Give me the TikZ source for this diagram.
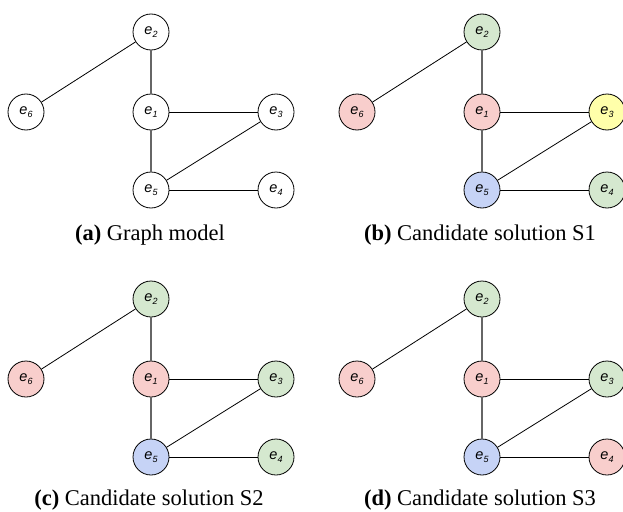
\documentclass[tikz,border=0pt]{standalone}
\usepackage{fontspec}
\setmainfont{Liberation Serif}
\newfontfamily\labelfont{Liberation Sans}
\definecolor{vred}{HTML}{F8CECC}
\definecolor{vgreen}{HTML}{D5E8CF}
\definecolor{vblue}{HTML}{C6D3F6}
\definecolor{vyellow}{HTML}{FFFFAA}
\definecolor{vwhite}{HTML}{FFFFFF}
\newcommand{\ev}[1]{{\labelfont\itshape\fontsize{14.5}{14.5}\selectfont e\raisebox{-2.5pt}{\fontsize{9}{9}\selectfont #1}}}
\tikzset{
  vert/.style={circle, draw=black, line width=0.8pt, minimum size=36pt, inner sep=0pt},
  vedge/.style={draw=black!60, line width=1.4pt},
  hedge/.style={draw=black, line width=0.8pt},
  captext/.style={anchor=base, font=\fontsize{22.5}{24}\selectfont, inner sep=0pt}
}
% one colored graph; #1,#2 = offset, #3..#8 = fills of e1..e6, #9 = prefix
\newcommand{\colgraph}[9]{%
  \begin{scope}[shift={(#1,#2)}]
    \node[vert, fill=#3] (#9e1) at (151,80) {\ev{1}};
    \node[vert, fill=#4] (#9e2) at (151,0) {\ev{2}};
    \node[vert, fill=#5] (#9e3) at (276,80) {\ev{3}};
    \node[vert, fill=#6] (#9e4) at (276,158) {\ev{4}};
    \node[vert, fill=#7] (#9e5) at (151,158) {\ev{5}};
    \node[vert, fill=#8] (#9e6) at (26,80) {\ev{6}};
    \draw[hedge] (#9e2) -- (#9e6);
    \draw[vedge] (#9e2) -- (#9e1);
    \draw[vedge] (#9e1) -- (#9e5);
    \draw[hedge] (#9e1) -- (#9e3);
    \draw[hedge] (#9e3) -- (#9e5);
    \draw[hedge] (#9e5) -- (#9e4);
  \end{scope}}
\begin{document}
\begin{tikzpicture}[x=1pt, y=-1pt]
  \useasboundingbox (0,0) rectangle (623,511);
  \colgraph{0}{32}{vwhite}{vwhite}{vwhite}{vwhite}{vwhite}{vwhite}{a}
  \colgraph{331}{32}{vred}{vgreen}{vyellow}{vgreen}{vblue}{vred}{b}
  \colgraph{0}{299}{vred}{vgreen}{vgreen}{vgreen}{vblue}{vred}{c}
  \colgraph{331}{299}{vred}{vgreen}{vgreen}{vred}{vblue}{vred}{d}
  \node[captext] (capa) at (150,240) {\textbf{(a)} Graph model};
  \node[captext] (capb) at (480,240) {\textbf{(b)} Candidate solution S1};
  \node[captext] (capc) at (149,505) {\textbf{(c)} Candidate solution S2};
  \node[captext] (capd) at (480,505) {\textbf{(d)} Candidate solution S3};
\end{tikzpicture}
\end{document}
